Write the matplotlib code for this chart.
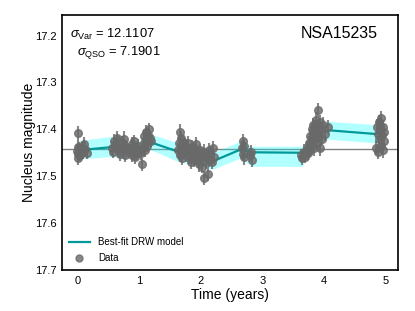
import matplotlib
matplotlib.use("Agg")
import matplotlib.pyplot as plt
from matplotlib.lines import Line2D
import numpy as np

plt.rcParams['font.family'] = ['Liberation Sans', 'DejaVu Sans']
plt.rcParams['mathtext.fontset'] = 'custom'
plt.rcParams['mathtext.rm'] = 'Liberation Sans'
plt.rcParams['mathtext.it'] = 'Liberation Sans:italic'

# light curve data (years, mag, mag error)
data_time = [0.00, 0.005, 0.01, 0.015, 0.02, 0.03, 0.05, 0.07, 0.09, 0.11, 0.13, 0.15,
             0.56, 0.58, 0.60, 0.62, 0.64, 0.66, 0.68, 0.70, 0.72, 0.74, 0.76, 0.78, 0.80, 0.81,
             0.86, 0.88, 0.89, 0.91, 0.92, 0.94, 0.95, 0.97, 0.98, 0.99,
             1.04, 1.05, 1.06, 1.08, 1.09, 1.10, 1.11, 1.12, 1.13, 1.14, 1.15, 1.17, 1.18, 1.20,
             1.63, 1.65, 1.66, 1.67, 1.68, 1.69, 1.70, 1.72, 1.74, 1.75, 1.77, 1.78, 1.80, 1.81,
             1.83, 1.84, 1.86, 1.87, 1.89, 1.90, 1.92, 1.93, 1.95, 1.96, 1.98, 1.99, 2.00, 2.02,
             2.03, 2.05, 2.06, 2.08, 2.12, 2.11, 2.13, 2.14, 2.16, 2.18, 2.20, 2.22,
             2.67, 2.68, 2.69, 2.70, 2.71, 2.80, 2.82, 2.83,
             3.63, 3.65, 3.67, 3.70, 3.72, 3.74, 3.76, 3.77, 3.78, 3.79, 3.80, 3.81, 3.82, 3.83,
             3.84, 3.85, 3.86, 3.87, 3.88, 3.89, 3.90, 3.91, 3.92, 3.93, 3.94, 3.95, 3.97, 3.99,
             4.02, 4.06,
             4.85, 4.86, 4.87, 4.88, 4.89, 4.90, 4.91, 4.92, 4.93, 4.94, 4.95, 4.96, 4.97, 4.98]
data_mag = [17.446, 17.462, 17.437, 17.408, 17.452, 17.443, 17.455, 17.440, 17.448, 17.432, 17.442, 17.450,
            17.440, 17.448, 17.425, 17.435, 17.418, 17.445, 17.430, 17.452, 17.428, 17.440, 17.420, 17.455, 17.445, 17.438,
            17.445, 17.455, 17.432, 17.448, 17.425, 17.458, 17.440, 17.450, 17.435, 17.445,
            17.450, 17.475, 17.440, 17.430, 17.415, 17.445, 17.420, 17.405, 17.435, 17.412, 17.428, 17.400, 17.418, 17.425,
            17.445, 17.430, 17.405, 17.455, 17.418, 17.440, 17.462, 17.428, 17.448, 17.435, 17.455, 17.442, 17.430, 17.460,
            17.445, 17.470, 17.438, 17.452, 17.465, 17.440, 17.458, 17.432, 17.468, 17.450, 17.475, 17.445, 17.462, 17.455,
            17.480, 17.503, 17.448, 17.470, 17.495, 17.458, 17.445, 17.465, 17.452, 17.470, 17.440, 17.460,
            17.440, 17.425, 17.452, 17.435, 17.460, 17.455, 17.448, 17.465,
            17.455, 17.462, 17.448, 17.458, 17.440, 17.450, 17.430, 17.445, 17.415, 17.435, 17.400, 17.425, 17.390, 17.410,
            17.440, 17.395, 17.420, 17.380, 17.405, 17.430, 17.358, 17.395, 17.415, 17.385, 17.440, 17.400, 17.420, 17.390,
            17.410, 17.395,
            17.440, 17.395, 17.410, 17.448, 17.385, 17.420, 17.400, 17.435, 17.375, 17.412, 17.445, 17.395, 17.425, 17.405]
data_err = [0.014, 0.015, 0.013, 0.016, 0.014, 0.015, 0.013, 0.014, 0.016, 0.015, 0.014, 0.013,
            0.015, 0.014, 0.016, 0.013, 0.015, 0.014, 0.016, 0.015, 0.013, 0.014, 0.016, 0.015, 0.014, 0.013,
            0.014, 0.015, 0.016, 0.014, 0.013, 0.015, 0.014, 0.016, 0.015, 0.014,
            0.015, 0.014, 0.016, 0.015, 0.014, 0.013, 0.016, 0.015, 0.014, 0.015, 0.016, 0.014, 0.015, 0.013,
            0.015, 0.014, 0.016, 0.015, 0.014, 0.016, 0.015, 0.013, 0.014, 0.016, 0.015, 0.014, 0.016, 0.015,
            0.014, 0.015, 0.016, 0.014, 0.015, 0.013, 0.016, 0.015, 0.014, 0.015, 0.016, 0.014, 0.015, 0.016,
            0.014, 0.015, 0.016, 0.014, 0.015, 0.014, 0.016, 0.015, 0.014, 0.015, 0.016, 0.014,
            0.015, 0.016, 0.014, 0.015, 0.016, 0.015, 0.014, 0.016,
            0.014, 0.015, 0.016, 0.014, 0.015, 0.016, 0.015, 0.014, 0.016, 0.015, 0.014, 0.016, 0.015, 0.014,
            0.016, 0.015, 0.014, 0.016, 0.015, 0.014, 0.015, 0.016, 0.014, 0.015, 0.016, 0.015, 0.014, 0.016,
            0.015, 0.014,
            0.015, 0.016, 0.014, 0.015, 0.016, 0.014, 0.015, 0.016, 0.014, 0.015, 0.016, 0.015, 0.014, 0.016]

# best-fit DRW model and its 1-sigma band
model_time = [0.00, 0.15, 0.56, 0.78, 0.99, 1.13, 1.62, 2.20, 2.65, 2.82, 3.65, 3.70, 3.90, 4.07, 4.84, 4.95]
model_mag = [17.443, 17.443, 17.438, 17.447, 17.445, 17.425, 17.447, 17.468, 17.443, 17.449, 17.450, 17.442, 17.412, 17.402, 17.410, 17.410]
model_hi = [17.425, 17.422, 17.415, 17.430, 17.428, 17.408, 17.428, 17.450, 17.425, 17.436, 17.436, 17.426, 17.396, 17.383, 17.390, 17.395]
model_lo = [17.462, 17.462, 17.458, 17.463, 17.460, 17.440, 17.468, 17.485, 17.461, 17.479, 17.479, 17.460, 17.430, 17.421, 17.429, 17.428]
mean_mag = 17.442

sigma_var = 12.1107
sigma_qso = 7.1901
name = 'NSA15235'

fig = plt.figure(figsize=(4.15, 3.11), dpi=100)
ax = fig.add_axes([0.149, 0.132, 0.81, 0.82])

ax.axhline(mean_mag, color='gray', lw=1, zorder=1)
ax.fill_between(model_time, model_hi, model_lo, color='cyan', alpha=0.3, lw=0, zorder=2)
ax.plot(model_time, model_mag, color='#009999', lw=1.6, zorder=3)
ax.errorbar(data_time, data_mag, yerr=data_err, fmt='o', color='dimgray', alpha=0.8,
            ms=5.5, elinewidth=1.5, capsize=0, zorder=4)

ax.set_xlim(-0.25, 5.2)
ax.set_ylim(17.7, 17.156)
ax.set_yticks([17.2, 17.3, 17.4, 17.5, 17.6, 17.7])
ax.set_xticks([0, 1, 2, 3, 4, 5])
ax.tick_params(length=0, labelsize=8, pad=4)
for s in ax.spines.values():
    s.set_linewidth(1.2)
    s.set_color('black')

ax.set_xlabel('Time (years)', fontsize=10, labelpad=2)
ax.set_ylabel('Nucleus magnitude', fontsize=10, labelpad=-1)

ax.text(0.025, 0.955, r'$\sigma_{\rm Var}$ = %.4f' % sigma_var, transform=ax.transAxes,
        fontsize=9.3, va='top', ha='left')
ax.text(0.045, 0.885, r'$\sigma_{\rm QSO}$ = %.4f' % sigma_qso, transform=ax.transAxes,
        fontsize=9.3, va='top', ha='left')
ax.text(0.94, 0.955, name, transform=ax.transAxes, fontsize=11.5, va='top', ha='right')

handles = [Line2D([], [], color='#009999', lw=1.6),
           Line2D([], [], ls='none', marker='o', ms=5, color='dimgray', alpha=0.8)]
ax.legend(handles, ['Best-fit DRW model', 'Data'], loc='lower left', frameon=False,
          fontsize=7, handlelength=2.2, borderaxespad=0.3, labelspacing=0.6)

fig.savefig('out.png', dpi=100)
